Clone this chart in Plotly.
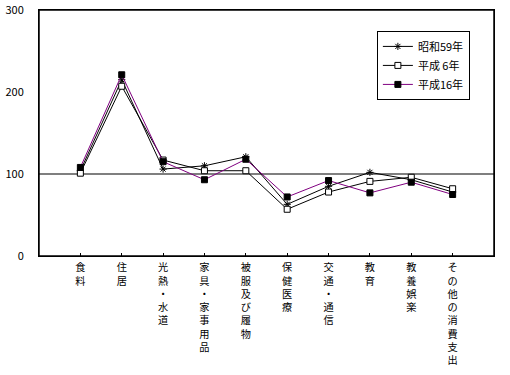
import plotly.graph_objects as go

categories = ["食料", "住居", "光熱・水道", "家具・家事用品", "被服及び履物",
              "保健医療", "交通・通信", "教育", "教養娯楽", "その他の消費支出"]
series_names = ["昭和59年", "平成 6年", "平成16年"]
s59 = [104, 215, 106, 110, 121, 63, 85, 102, 93, 78]
h6 = [101, 207, 117, 104, 104, 57, 78, 91, 96, 82]
h16 = [108, 221, 115, 93, 118, 72, 92, 77, 90, 75]
y_ticks = [0, 100, 200, 300]

FONT = "Noto Sans CJK JP"

fig = go.Figure()
fig.add_trace(go.Scatter(
    x=categories, y=s59, name=series_names[0], mode="lines+markers",
    line=dict(color="black", width=1),
    marker=dict(symbol="asterisk-open", size=6, color="black",
                line=dict(color="black", width=1))))
fig.add_trace(go.Scatter(
    x=categories, y=h6, name=series_names[1], mode="lines+markers",
    line=dict(color="black", width=1),
    marker=dict(symbol="square", size=6, color="white",
                line=dict(color="black", width=1))))
fig.add_trace(go.Scatter(
    x=categories, y=h16, name=series_names[2], mode="lines+markers",
    line=dict(color="#800080", width=1),
    marker=dict(symbol="square", size=6, color="black",
                line=dict(color="black", width=1))))

fig.add_shape(type="line", xref="paper", x0=0, x1=1, yref="y", y0=100, y1=100,
              line=dict(color="black", width=1.2), layer="below")
fig.add_shape(type="rect", xref="paper", x0=0, x1=1, yref="paper", y0=0, y1=1,
              line=dict(color="black", width=1.5), layer="above")

fig.update_layout(
    width=510, height=375,
    margin=dict(l=39, r=16, t=10, b=119),
    paper_bgcolor="white", plot_bgcolor="white",
    font=dict(family=FONT, color="black", size=11),
    showlegend=True,
    legend=dict(x=0.947, y=0.915, xanchor="right", yanchor="top",
                bordercolor="black", borderwidth=1, bgcolor="white",
                font=dict(size=11, family=FONT), tracegroupgap=0,
                itemwidth=30),
    xaxis=dict(type="category", range=[-1, len(categories)],
               tickvals=categories,
               ticktext=["<br>".join(list(c)) for c in categories],
               tickfont=dict(size=10.2, family=FONT),
               showline=True, linecolor="black", linewidth=1, mirror=True,
               ticks="inside", ticklen=3, tickcolor="black",
               ticklabelstandoff=2,
               showgrid=False, zeroline=False, automargin=False),
    yaxis=dict(range=[0, 300], tickvals=y_ticks,
               tickfont=dict(size=11, family=FONT),
               showline=True, linecolor="black", linewidth=1, mirror=True,
               ticks="", ticklabelstandoff=12, ticklabeloverflow="allow",
               showgrid=False, zeroline=False, automargin=False),
)

# remove the page's default 8px body margin so the figure fills the window
fig.write_html("out.html",
               config={"displayModeBar": False},
               post_script="document.body.style.margin='0';")
